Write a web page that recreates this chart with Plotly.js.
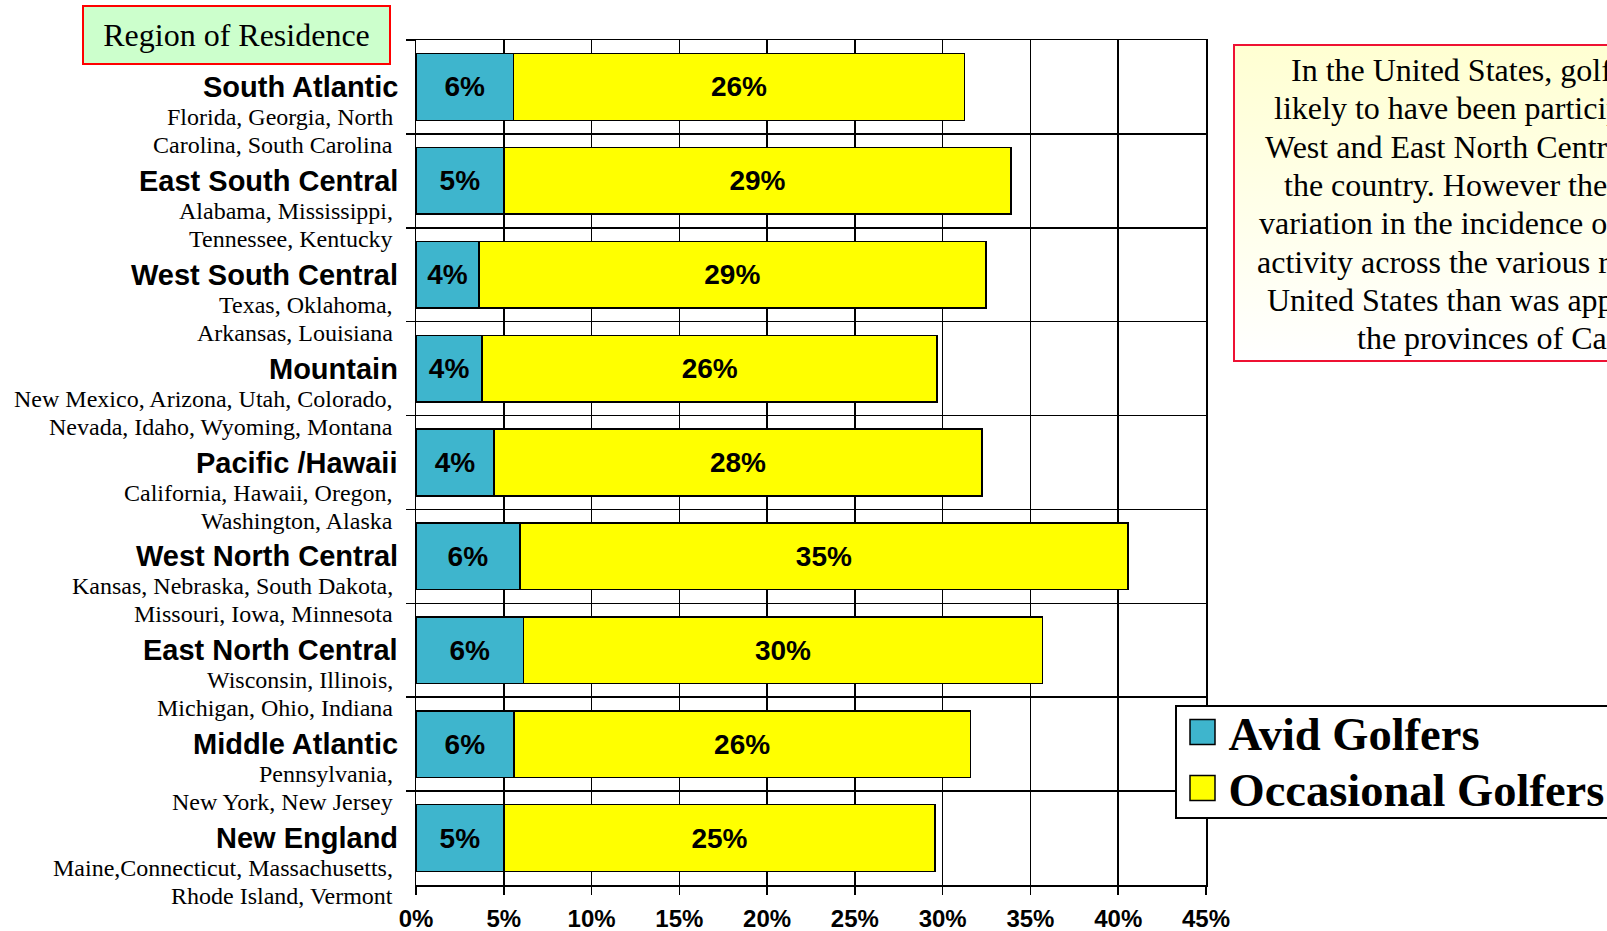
<!DOCTYPE html>
<html>
<head>
<meta charset="utf-8">
<script src="https://cdn.plot.ly/plotly-3.0.1.min.js"></script>
<style>
  html, body { margin: 0; padding: 0; background: #ffffff; overflow: hidden; }
  #wrap { position: relative; width: 1607px; height: 931px; overflow: hidden; }
  #note { position: absolute; left: 1233px; top: 44px; width: 440px; height: 314px;
          border: 2px solid #EE1133; background: linear-gradient(#FFFFD2, #FFFFFF); }
  #chart { position: absolute; left: 0; top: 0; width: 1607px; height: 931px; }
</style>
</head>
<body>
<div id="wrap"><div id="note"></div><div id="chart"></div></div>
<script>
// ---------------- data ----------------
const regions = [
  "South Atlantic", "East South Central", "West South Central", "Mountain",
  "Pacific /Hawaii", "West North Central", "East North Central",
  "Middle Atlantic", "New England"
];
const statesLine1 = [
  "Florida, Georgia, North", "Alabama, Mississippi,", "Texas, Oklahoma,",
  "New Mexico, Arizona, Utah, Colorado,", "California, Hawaii, Oregon,",
  "Kansas, Nebraska, South Dakota,", "Wisconsin, Illinois,", "Pennsylvania,",
  "Maine,Connecticut, Massachusetts,"
];
const statesLine2 = [
  "Carolina, South Carolina", "Tennessee, Kentucky", "Arkansas, Louisiana",
  "Nevada, Idaho, Wyoming, Montana", "Washington, Alaska",
  "Missouri, Iowa, Minnesota", "Michigan, Ohio, Indiana", "New York, New Jersey",
  "Rhode Island, Vermont"
];
const avidGolfers = [0.0555, 0.0500, 0.0358, 0.0377, 0.0445, 0.0591, 0.0612, 0.0557, 0.0500];
const occasionalGolfers = [0.2570, 0.2890, 0.2888, 0.2592, 0.2778, 0.3465, 0.2957, 0.2602, 0.2457];
const xTickValues = [0, 0.05, 0.10, 0.15, 0.20, 0.25, 0.30, 0.35, 0.40, 0.45];
const seriesNames = ["Avid Golfers", "Occasional Golfers"];
const boxTitle = "Region of Residence";
const noteLines = [
  "In the United States, golfers were",
  "likely to have been participating in the",
  "West and East North Central regions of",
  "the country. However there was less",
  "variation in the incidence of golfing",
  "activity across the various regions of the",
  "United States than was apparent across",
  "the provinces of Canada."
];

// ---------------- layout helpers ----------------
const W = 1607, H = 931;
const M = { l: 416, r: 401, t: 40, b: 46 };
const px = x => (x - M.l) / (W - M.l - M.r);
const py = y => (H - M.b - y) / (H - M.t - M.b);
const noteLeft = [1289, 1272, 1263, 1282, 1257, 1255, 1265, 1355];
const noteTop = 70, noteStep = 38.3;

const SANS = "Liberation Sans, Arial, sans-serif";
const SERIF = "Liberation Serif, Times New Roman, serif";

const barText = { family: SANS, size: 28, color: "#000000", weight: "bold" };
const traces = [
  {
    type: "bar", orientation: "h", name: seriesNames[0],
    y: regions, x: avidGolfers,
    marker: { color: "#3EB5CD", line: { color: "#000000", width: 1.5 } },
    texttemplate: "%{x:.0%}", textposition: "inside", insidetextanchor: "middle",
    textangle: 0, constraintext: "none", textfont: barText,
    hoverinfo: "skip"
  },
  {
    type: "bar", orientation: "h", name: seriesNames[1],
    y: regions, x: occasionalGolfers,
    marker: { color: "#FFFF00", line: { color: "#000000", width: 1.5 } },
    texttemplate: "%{x:.0%}", textposition: "inside", insidetextanchor: "middle",
    textangle: 0, constraintext: "none", textfont: barText,
    hoverinfo: "skip"
  }
];

const annotations = [];
regions.forEach((r, i) => {
  annotations.push({
    xref: "paper", x: 0, xanchor: "right", xshift: -16,
    yref: "y", y: r, yanchor: "middle",
    text: "<b>" + r + "</b>", showarrow: false,
    font: { family: SANS, size: 29, color: "#000000" }
  });
  annotations.push({
    xref: "paper", x: 0, xanchor: "right", xshift: -21,
    yref: "y", y: r, yanchor: "middle", yshift: -30,
    text: statesLine1[i], showarrow: false,
    font: { family: SERIF, size: 24, color: "#000000" }
  });
  annotations.push({
    xref: "paper", x: 0, xanchor: "right", xshift: -21,
    yref: "y", y: r, yanchor: "middle", yshift: -58,
    text: statesLine2[i], showarrow: false,
    font: { family: SERIF, size: 24, color: "#000000" }
  });
});
annotations.push({
  xref: "paper", x: px(82), xanchor: "left",
  yref: "paper", y: py(5), yanchor: "top",
  text: boxTitle, showarrow: false, width: 305, height: 56,
  bgcolor: "#CCFFCC", bordercolor: "#FF0000", borderwidth: 2, borderpad: 0,
  font: { family: SERIF, size: 32, color: "#000000" }
});
noteLines.forEach((t, i) => {
  annotations.push({
    xref: "paper", x: px(noteLeft[i]), xanchor: "left",
    yref: "paper", y: py(noteTop + i * noteStep), yanchor: "middle",
    text: t, showarrow: false,
    font: { family: SERIF, size: 32, color: "#000000" }
  });
});

const layout = {
  width: W, height: H,
  margin: { l: M.l, r: M.r, t: M.t, b: M.b, pad: 0, autoexpand: false },
  paper_bgcolor: "rgba(0,0,0,0)", plot_bgcolor: "#ffffff",
  barmode: "stack", bargap: 0.29,
  showlegend: true,
  legend: {
    x: px(1175), xanchor: "left", y: py(705), yanchor: "top",
    bgcolor: "#ffffff", bordercolor: "#000000", borderwidth: 1.5,
    traceorder: "normal", itemwidth: 42,
    font: { family: SERIF, size: 46.5, color: "#000000", weight: "bold" }
  },
  xaxis: {
    range: [0, 0.45], autorange: false, tickvals: xTickValues, tickformat: ".0%",
    showgrid: true, gridcolor: "#000000", gridwidth: 1.5,
    showline: true, linecolor: "#000000", linewidth: 1.5, mirror: true,
    ticks: "outside", ticklen: 8, tickwidth: 1.5, tickcolor: "#000000",
    ticklabelstandoff: 4, automargin: false,
    tickfont: { family: SANS, size: 24, color: "#000000", weight: "bold" },
    zeroline: false, fixedrange: true
  },
  yaxis: {
    type: "category", categoryorder: "array", categoryarray: regions,
    range: [regions.length - 0.5, -0.5], autorange: false, showticklabels: false,
    ticks: "outside", tickson: "boundaries", ticklen: 9, tickwidth: 1.5, tickcolor: "#000000",
    showgrid: true, gridcolor: "#000000", gridwidth: 1.5,
    showline: true, linecolor: "#000000", linewidth: 1.5, mirror: true,
    zeroline: false, fixedrange: true, automargin: false
  },
  annotations: annotations
};

Plotly.newPlot("chart", traces, layout, { displayModeBar: false, staticPlot: true }).then(gd => {
  const leg = gd.querySelector(".legend");
  if (!leg) return;
  const centers = [27, 83];
  leg.querySelectorAll(".traces").forEach((g, i) => {
    const tr = g.getAttribute("transform") || "";
    const m = tr.match(/translate\(\s*([-\d.]+)[ ,]+([-\d.]+)\s*\)/);
    const tx = m ? parseFloat(m[1]) : 1.5;
    if (i < centers.length) g.setAttribute("transform", "translate(" + tx + "," + centers[i] + ")");
    g.querySelectorAll(".legendpoints path").forEach(p => p.setAttribute("d", "M12.5,12.5H-12.5V-12.5H12.5Z"));
  });
  const bg = leg.querySelector("rect.bg");
  if (bg) bg.setAttribute("height", 112);
});
</script>
</body>
</html>
